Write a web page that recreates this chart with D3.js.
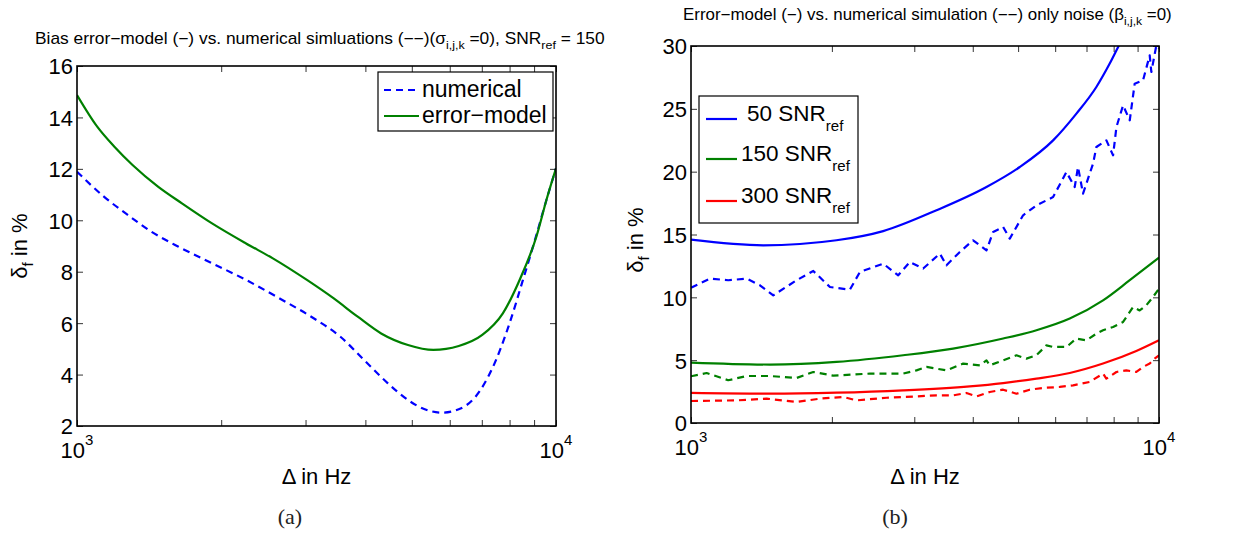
<!DOCTYPE html>
<html><head><meta charset="utf-8">
<script src="https://cdn.jsdelivr.net/npm/d3@7"></script>
<style>body{margin:0;background:#fff;}</style>
</head><body>
<svg id="c" width="1244" height="540" style="font-family:'Liberation Sans',Arial,sans-serif"></svg>
<script>
// ---------- data: panel (a) ----------
const aNumX = [1000,1138,1276,1429,1629,1914,2254,2649,3119,3548,3972,4457,4909,5321,5781,6266,6792,7362,7998,8531,9036,9550,10000];
const aNumY = [11.89,10.92,10.21,9.56,8.97,8.33,7.68,6.96,6.19,5.47,4.57,3.66,3.01,2.65,2.52,2.65,3.14,4.24,5.99,7.68,9.23,10.79,12.02];
const aModX = [1000,1102,1197,1306,1476,1656,1914,2254,2564,3020,3436,3855,4315,4909,5546,6266,7015,7745,8395,9099,9550,10000];
const aModY = [14.87,13.64,12.86,12.15,11.31,10.66,9.88,9.10,8.52,7.68,6.96,6.25,5.60,5.15,4.96,5.11,5.54,6.38,7.68,9.36,10.79,12.02];
const aYTicks = [2,4,6,8,10,12,14,16];
const aLegend = ["numerical","error\u2212model"];

// ---------- data: panel (b) ----------
const b50ModX = [1000,1427,2046,2574,3347,4279,5041,5939,6661,7348,7847,8201,8710,9000,10000];
const b50ModY = [14.59,14.14,14.54,15.27,16.93,18.78,20.37,22.49,24.62,26.74,28.6,30.0,31.8,33.0,36.5];
const b50NumX = [1000,1098,1201,1315,1404,1499,1681,1825,1981,2185,2296,2574,2772,2935,3134,3402,3515,3753,4007,4279,4422,4645,4799,5124,5472,5939,6342,6605,6714,6881,7229,7348,7720,7978,8110,8380,8660,8872,9244,9553,9630,9870,10000];
const b50NumY = [10.77,11.49,11.36,11.49,10.96,10.16,11.36,12.10,10.82,10.61,12.02,12.68,11.75,12.81,12.29,13.48,12.55,13.61,14.54,13.74,15.20,15.6,14.67,16.53,17.32,17.98,19.97,18.78,20.37,18.25,20.64,21.96,22.49,21.3,23.55,25.28,24.09,27.0,27.27,29.26,27.93,30.05,29.8];
const b150ModX = [1000,1475,2046,2840,3631,4645,5472,6446,7593,8660,10000];
const b150ModY = [4.81,4.65,4.86,5.39,5.92,6.72,7.38,8.31,9.76,11.36,13.16];
const b150NumX = [1000,1080,1201,1315,1475,1681,1825,2013,2411,2840,3033,3186,3515,3815,4141,4279,4349,4645,4959,5208,5472,5747,5939,6342,6661,6995,7348,7593,7978,8380,8800,9092,9397,9710,10000];
const b150NumY = [3.72,3.98,3.40,3.74,3.74,3.58,4.06,3.77,3.93,3.93,4.19,4.46,4.19,4.73,4.59,4.99,4.59,4.99,5.39,5.12,5.39,6.18,6.05,6.05,6.72,6.58,7.11,7.38,7.64,8.04,9.23,8.96,9.37,10.03,10.69];
const b300ModX = [1000,1475,2046,2840,3941,4645,5472,6446,7593,8944,10000];
const b300ModY = [2.39,2.33,2.41,2.60,2.92,3.18,3.53,3.98,4.73,5.73,6.58];
const b300NumX = [1000,1252,1451,1681,1886,2115,2258,2617,3033,3347,3631,3878,4074,4349,4645,4959,5294,5653,6136,6553,7112,7593,7718,8110,8515,8944,9244,9553,9788,10000];
const b300NumY = [1.75,1.80,1.94,1.67,1.94,2.07,1.80,2.01,2.12,2.20,2.20,2.39,2.12,2.47,2.65,2.33,2.65,2.79,2.87,3.00,3.27,3.93,3.53,4.06,4.19,4.06,4.46,4.73,5.12,5.39];
const bYTicks = [0,5,10,15,20,25,30];
const bLegend = [["50","SNR","ref"],["150","SNR","ref"],["300","SNR","ref"]];

const xMinor = [2000,3000,4000,5000,6000,7000,8000,9000];
const BLUE="#0000ff", GREEN="#008000", RED="#ff0000";
const SANS = "'Liberation Sans', Arial, sans-serif";

const svg = d3.select("#c");

function panel(o){
  const g = svg.append("g");
  const x = d3.scaleLog().domain([1000,10000]).range([o.x0,o.x1]);
  const y = d3.scaleLinear().domain(o.yd).range([o.y1,o.y0]);
  const clipId = "clip"+o.id;
  svg.append("clipPath").attr("id",clipId).append("rect")
     .attr("x",o.x0).attr("y",o.y0).attr("width",o.x1-o.x0).attr("height",o.y1-o.y0);
  const lines = g.append("g").attr("clip-path","url(#"+clipId+")");
  o.series.forEach(s=>{
    const pts = s.x.map((v,i)=>[v,s.y[i]]);
    const line = d3.line().x(d=>x(d[0])).y(d=>y(d[1])).curve(s.smooth?d3.curveMonotoneX:d3.curveLinear);
    lines.append("path").attr("d",line(pts)).attr("fill","none")
      .attr("stroke",s.color).attr("stroke-width",2.2)
      .attr("stroke-dasharray",s.dash?"7,5":null).attr("stroke-linejoin","round");
  });
  const tl = 6;
  const bottom = d3.axisBottom(x).tickValues([1000,10000]).tickSize(-tl).tickFormat("");
  const top = d3.axisTop(x).tickValues([1000,10000]).tickSize(-tl).tickFormat("");
  const bottomMinor = d3.axisBottom(x).tickValues(xMinor).tickSize(-tl).tickFormat("");
  const topMinor = d3.axisTop(x).tickValues(xMinor).tickSize(-tl).tickFormat("");
  const left = d3.axisLeft(y).tickValues(o.yt).tickSize(-tl).tickFormat(d3.format("d"));
  const right = d3.axisRight(y).tickValues(o.yt).tickSize(-tl).tickFormat("");
  [[bottom,"translate(0,"+o.y1+")"],[top,"translate(0,"+o.y0+")"],
   [bottomMinor,"translate(0,"+o.y1+")"],[topMinor,"translate(0,"+o.y0+")"],
   [left,"translate("+o.x0+",0)"],[right,"translate("+o.x1+",0)"]].forEach(([ax,tr])=>{
    const a = g.append("g").attr("transform",tr).call(ax).attr("font-family",SANS);
    a.select(".domain").remove();
    a.selectAll(".tick line").attr("stroke","#000").attr("stroke-width",0.8);
    a.selectAll(".tick text").attr("font-size",22).attr("fill","#000").attr("x",-4).attr("dy","0.36em");
  });
  g.append("rect").attr("x",o.x0).attr("y",o.y0).attr("width",o.x1-o.x0).attr("height",o.y1-o.y0)
   .attr("fill","none").attr("stroke","#000").attr("stroke-width",1.6);
  [[1000,"3"],[10000,"4"]].forEach(([v,e])=>{
    const t = g.append("text").attr("x",x(v)).attr("y",o.y1+32).attr("text-anchor","middle")
      .attr("font-size",22).attr("fill","#000");
    t.append("tspan").text("10");
    t.append("tspan").attr("font-size",15).attr("dy",-13).text(e);
  });
  g.append("text").attr("x",(o.x0+o.x1)/2).attr("y",o.xlabY).attr("text-anchor","middle")
   .attr("font-size",22).text("\u0394 in Hz");
  const yl = g.append("text").attr("transform","translate("+o.ylabX+","+o.ylabY+") rotate(-90)")
    .attr("text-anchor","middle").attr("font-size",22);
  yl.append("tspan").text("\u03b4");
  yl.append("tspan").attr("font-size",15).attr("dy",6).text("f");
  yl.append("tspan").attr("dy",-6).text(" in %");
  g.append("text").attr("x",o.capX).attr("y",524).attr("text-anchor","middle")
   .attr("font-family","'Liberation Serif', 'DejaVu Serif', serif").attr("font-size",22).attr("fill","#222").text(o.cap);
  return {g,x,y};
}

// fit a title into [xl, xr] by horizontal scaling
function title(parts, xl, xr, base){
  const grp = svg.append("g");
  const t = grp.append("text").attr("x",0).attr("y",0).attr("font-size",16);
  parts.forEach(p=>{
    const ts = t.append("tspan").text(p.t);
    if(p.sub){ ts.attr("font-size",11.5).attr("dy",5); }
    if(p.back){ ts.attr("dy",-5); }
  });
  const w = t.node().getBBox().width;
  grp.attr("transform","translate("+xl+","+base+") scale("+((xr-xl)/w)+",1)");
}

// Panel (a)
const pa = panel({id:"a",x0:77,x1:556,y0:66,y1:426,yd:[2,16],yt:aYTicks,
  xlabY:484,ylabX:27,ylabY:246,capX:290,cap:"(a)",
  series:[{x:aNumX,y:aNumY,color:BLUE,dash:true,smooth:true},
          {x:aModX,y:aModY,color:GREEN,dash:false,smooth:true}]});
title([{t:"Bias error\u2212model (\u2212) vs. numerical simluations (\u2212\u2212)(\u03c3"},{t:"i,j,k",sub:true},
       {t:" =0), SNR",back:true},{t:"ref",sub:true},{t:"  = 150",back:true}], 35, 605, 44);
{
  const lg = pa.g.append("g");
  lg.append("rect").attr("x",378).attr("y",72).attr("width",175).attr("height",59)
    .attr("fill","#fff").attr("stroke","#000").attr("stroke-width",1.2);
  const cols=[BLUE,GREEN], dashes=[true,false], ys=[90,116];
  aLegend.forEach((s,i)=>{
    lg.append("line").attr("x1",384).attr("x2",419).attr("y1",ys[i]).attr("y2",ys[i])
      .attr("stroke",cols[i]).attr("stroke-width",2.2).attr("stroke-dasharray",dashes[i]?"7,5":null);
    lg.append("text").attr("x",422).attr("y",ys[i]+7).attr("font-size",23).text(s);
  });
}

// Panel (b)
const pb = panel({id:"b",x0:691,x1:1159,y0:46,y1:423,yd:[0,30],yt:bYTicks,
  xlabY:484,ylabX:643,ylabY:240,capX:895,cap:"(b)",
  series:[{x:b50ModX,y:b50ModY,color:BLUE,smooth:true},
          {x:b50NumX,y:b50NumY,color:BLUE,dash:true},
          {x:b150ModX,y:b150ModY,color:GREEN,smooth:true},
          {x:b150NumX,y:b150NumY,color:GREEN,dash:true},
          {x:b300ModX,y:b300ModY,color:RED,smooth:true},
          {x:b300NumX,y:b300NumY,color:RED,dash:true}]});
title([{t:"Error\u2212model (\u2212) vs. numerical simulation (\u2212\u2212) only noise (\u03b2"},{t:"i,j,k",sub:true},
       {t:" =0)",back:true}], 683, 1172, 20);
{
  const lg = pb.g.append("g");
  lg.append("rect").attr("x",699).attr("y",96).attr("width",159).attr("height",127)
    .attr("fill","#fff").attr("stroke","#000").attr("stroke-width",1.2);
  const cols=[BLUE,GREEN,RED], ys=[119,159,201], tx=[747,741,741];
  bLegend.forEach((s,i)=>{
    lg.append("line").attr("x1",706).attr("x2",737).attr("y1",ys[i]).attr("y2",ys[i])
      .attr("stroke",cols[i]).attr("stroke-width",2.2);
    const t = lg.append("text").attr("x",tx[i]).attr("y",ys[i]+2).attr("font-size",22.5);
    t.append("tspan").text(s[0]+" "+s[1]);
    t.append("tspan").attr("font-size",15).attr("dy",10).text(s[2]);
  });
}
</script>
</body></html>
